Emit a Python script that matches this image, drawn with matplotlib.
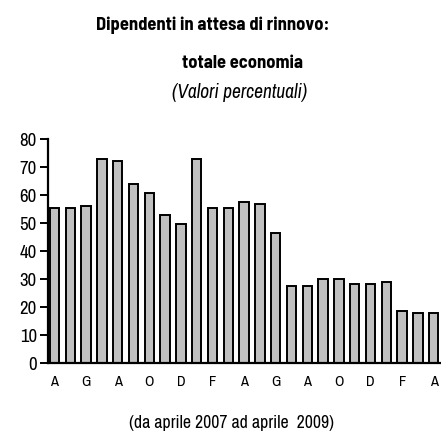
import matplotlib
matplotlib.use("Agg")
import matplotlib.pyplot as plt
import numpy as np

plt.rcParams['font.family'] = ['Archivo Narrow', 'Liberation Sans', 'DejaVu Sans']
title_family = ['Barlow Semi Condensed', 'Asap Condensed', 'DejaVu Sans']

values = [55.2, 55.2, 56.1, 72.7, 72.0, 64.0, 60.8, 53.0, 49.6, 72.7, 55.2,
          55.2, 57.6, 56.8, 46.4, 27.5, 27.5, 29.9, 29.9, 28.2, 28.2, 29.0,
          18.7, 17.9, 17.9]
tick_labels = ["A", "G", "A", "O", "D", "F", "A", "G", "A", "O", "D", "F", "A"]
yticks = [0, 10, 20, 30, 40, 50, 60, 70, 80]

fig = plt.figure(figsize=(4.41, 4.41), dpi=100)
ax = fig.add_axes([48/441, 1-363/441, (441-48)/441, (363-139)/441])

x = np.arange(len(values))
ax.bar(x, values, width=0.59, color='#c0c0c0', edgecolor='black', linewidth=1.4)
ax.set_xlim(-0.41, 24.46)
ax.set_ylim(0, 80)
ax.set_yticks(yticks)
ax.set_yticklabels([str(v) for v in yticks], fontsize=13.5)
ax.set_xticks(x[::2])
ax.set_xticklabels(tick_labels, fontsize=10.5)
ax.tick_params(axis='x', length=0, pad=9)
ax.tick_params(axis='y', length=6, width=1.4, direction='out', pad=2)
for s in ['top', 'right']:
    ax.spines[s].set_visible(False)
for s in ['left', 'bottom']:
    ax.spines[s].set_linewidth(1.6)

fig.text(213/441, 1-25/441, "Dipendenti in attesa di rinnovo:", ha='center', va='center',
         fontsize=13.3, fontweight='bold', family=title_family)
fig.text(242/441, 1-63/441, "totale economia", ha='center', va='center',
         fontsize=13.3, fontweight='bold', family=title_family)
fig.text(240/441, 1-92/441, "(Valori percentuali)", ha='center', va='center',
         fontsize=14, style='italic')
fig.text(232/441, 1-423/441, "(da aprile 2007 ad aprile  2009)", ha='center', va='center',
         fontsize=12.8)

fig.savefig("out.png", dpi=100)
